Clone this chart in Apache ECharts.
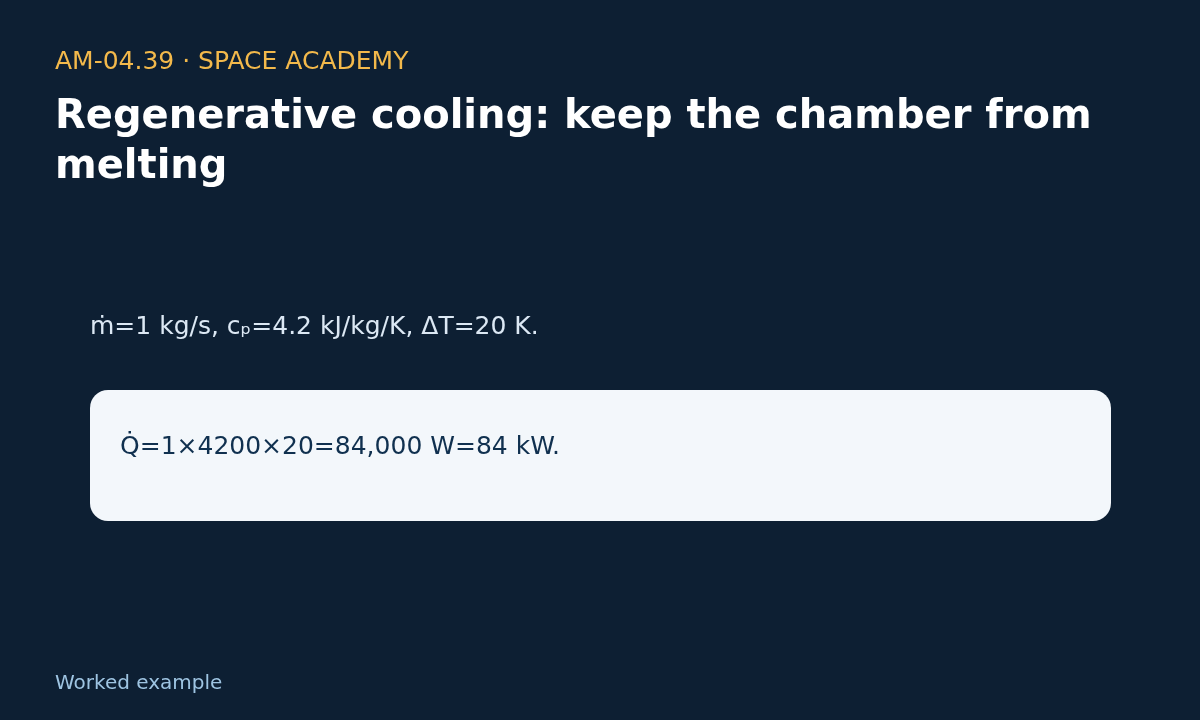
<!DOCTYPE html>
<html>
<head>
<meta charset="utf-8">
<script src="https://cdn.jsdelivr.net/npm/echarts@6/dist/echarts.min.js"></script>
<style>
  html, body { margin: 0; padding: 0; background: #0d1f33; }
  #main { width: 1200px; height: 720px; }
</style>
</head>
<body>
<div id="main"></div>
<script>
// slide texts
var eyebrow = 'AM-04.39 · SPACE ACADEMY';
var titleLines = ['Regenerative cooling: keep the chamber from', 'melting'];
var givenLine = 'ṁ=1 kg/s, cₚ=4.2 kJ/kg/K, ΔT=20 K.';
var resultLine = 'Q̇=1×4200×20=84,000 W=84 kW.';
var footer = 'Worked example';

var chart = echarts.init(document.getElementById('main'));
var font = '"DejaVu Sans", sans-serif';

var elements = [
    {
        type: 'text', left: 55, top: 50,
        style: { text: eyebrow, fill: '#f3b94b', font: '25px ' + font }
    },
    {
        type: 'rect', shape: { x: 90, y: 390, width: 1021, height: 131, r: 18 },
        style: { fill: '#f3f7fb' }
    },
    {
        type: 'text', left: 90, top: 315,
        style: { text: givenLine, fill: '#dce8f4', font: '25px ' + font }
    },
    {
        type: 'text', left: 120, top: 435,
        style: { text: resultLine, fill: '#10304f', font: '25px ' + font }
    },
    {
        type: 'text', left: 55, top: 674,
        style: { text: footer, fill: '#9ec4e2', font: '20px ' + font }
    }
];
titleLines.forEach(function (line, i) {
    elements.push({
        type: 'text', left: 55, top: 98 + i * 50,
        style: { text: line, fill: '#ffffff', font: 'bold 40px ' + font }
    });
});

chart.setOption({
    backgroundColor: '#0d1f33',
    graphic: { elements: elements }
});
</script>
</body>
</html>
